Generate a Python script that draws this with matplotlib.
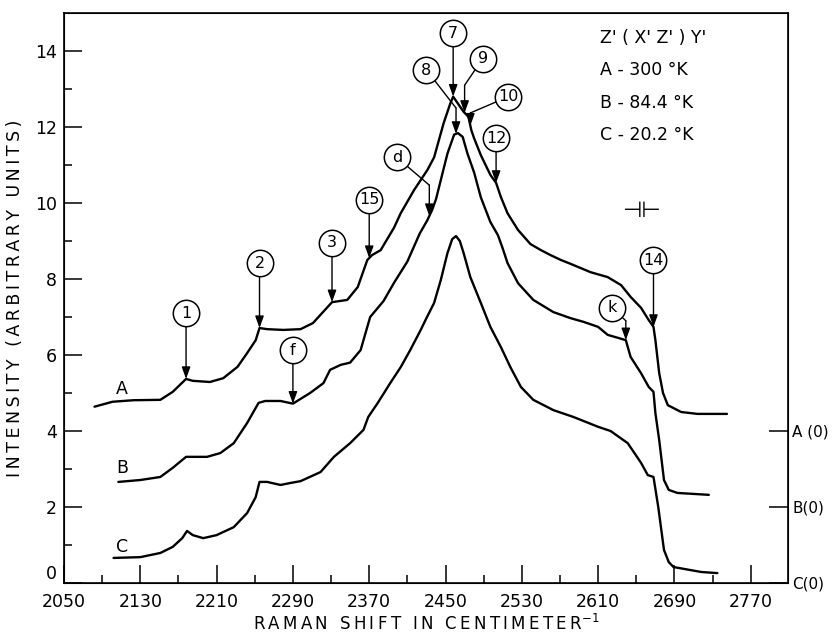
import numpy as np
import matplotlib.pyplot as plt

# Raman spectrum, Z'(X'Z')Y' scattering, three temperatures (curves offset)
shift_a = [2082, 2101, 2123, 2151, 2164, 2178, 2185, 2203, 2217, 2232, 2242, 2251, 2255,
           2263, 2280, 2298, 2311, 2331, 2347, 2358, 2368, 2373, 2382, 2396, 2403, 2417,
           2431, 2438, 2448, 2455, 2458, 2464, 2469, 2474, 2477, 2480, 2487, 2492, 2497,
           2503, 2508, 2515, 2526, 2539, 2550, 2560, 2571, 2581, 2602, 2620, 2634, 2644,
           2655, 2663, 2668, 2670, 2674, 2678, 2683, 2697, 2714, 2745]
int_a = [4.64, 4.77, 4.81, 4.82, 5.03, 5.37, 5.32, 5.29, 5.39, 5.69, 6.05, 6.39, 6.71,
         6.68, 6.66, 6.68, 6.84, 7.39, 7.45, 7.79, 8.5, 8.63, 8.76, 9.35, 9.73, 10.34,
         10.87, 11.2, 12.1, 12.62, 12.8, 12.58, 12.4, 12.27, 11.92, 11.7, 11.26, 11.0, 10.74,
         10.53, 10.16, 9.73, 9.29, 8.92, 8.76, 8.63, 8.5, 8.4, 8.18, 8.05, 7.84, 7.53,
         7.24, 6.92, 6.74, 6.39, 5.52, 5.0, 4.68, 4.5, 4.45, 4.45]

shift_b = [2107, 2130, 2151, 2164, 2178, 2200, 2214, 2228, 2242, 2254, 2261, 2277, 2290,
           2308, 2322, 2329, 2340, 2350, 2361, 2368, 2371, 2385, 2396, 2410, 2423, 2431,
           2436, 2440, 2445, 2452, 2459, 2463, 2468, 2473, 2480, 2487, 2497, 2505, 2510,
           2515, 2526, 2542, 2563, 2581, 2595, 2610, 2620, 2631, 2639, 2644, 2655, 2663,
           2668, 2670, 2674, 2679, 2684, 2693, 2726]
int_b = [2.66, 2.71, 2.79, 3.03, 3.32, 3.32, 3.42, 3.68, 4.21, 4.74, 4.79, 4.79, 4.72,
         5.0, 5.26, 5.61, 5.74, 5.8, 6.13, 6.74, 7.0, 7.42, 7.9, 8.46, 9.2, 9.55,
         9.82, 10.1, 10.6, 11.3, 11.8, 11.84, 11.74, 11.3, 10.8, 10.15, 9.5, 9.15, 8.8,
         8.42, 7.89, 7.45, 7.13, 6.97, 6.87, 6.74, 6.53, 6.45, 6.39, 5.95, 5.52, 5.16,
         5.03, 4.47, 3.76, 2.71, 2.45, 2.37, 2.32]

shift_c = [2102, 2130, 2151, 2164, 2174, 2179, 2185, 2196, 2210, 2228, 2242, 2251, 2255,
           2263, 2277, 2287, 2298, 2319, 2333, 2350, 2364, 2369, 2379, 2392, 2403, 2413,
           2424, 2429, 2438, 2445, 2452, 2457, 2461, 2465, 2469, 2476, 2487, 2497, 2508,
           2518, 2529, 2542, 2563, 2584, 2610, 2623, 2641, 2655, 2662, 2668, 2673, 2679,
           2684, 2689, 2718, 2735]
int_c = [0.66, 0.68, 0.79, 0.95, 1.18, 1.37, 1.26, 1.18, 1.26, 1.47, 1.84, 2.26, 2.66,
         2.66, 2.58, 2.63, 2.68, 2.92, 3.32, 3.68, 4.03, 4.37, 4.74, 5.26, 5.68, 6.13,
         6.66, 6.92, 7.37, 7.97, 8.68, 9.05, 9.13, 9.0, 8.68, 8.05, 7.37, 6.74, 6.21,
         5.68, 5.16, 4.82, 4.55, 4.37, 4.11, 4.0, 3.68, 3.16, 2.84, 2.79, 2.0, 0.87,
         0.55, 0.42, 0.29, 0.26]

curves = {'A': (shift_a, int_a), 'B': (shift_b, int_b), 'C': (shift_c, int_c)}
zero_labels = ['A (0)', 'B(0)', 'C(0)']
zero_levels = [4, 2, 0]
legend_lines = ["Z' ( X' Z' ) Y'", 'A - 300 °K', 'B - 84.4 °K', 'C - 20.2 °K']

# circled band labels: text, circle centre, arrow target shift, curve, optional bend point
marks = [
    ('1', (2177, 7.1), 2178, 'A', None),
    ('2', (2254, 8.42), 2255, 'A', None),
    ('3', (2331, 8.95), 2331, 'A', None),
    ('15', (2370, 10.08), 2370, 'A', None),
    ('d', (2399, 11.2), 2433, 'B', (2433, 10.47)),
    ('7', (2459, 14.47), 2458, 'A', None),
    ('8', (2430, 13.5), 2461, 'B', (2461, 12.5)),
    ('9', (2489, 13.8), 2470, 'A', (2470, 13.1)),
    ('10', (2516, 12.8), 2476, 'A', (2476, 12.37)),
    ('12', (2503, 11.7), 2503, 'A', None),
    ('14', (2668, 8.5), 2668, 'A', None),
    ('k', (2625, 7.24), 2639, 'B', (2639, 6.9)),
    ('f', (2289, 6.13), 2290, 'B', None),
]
curve_tags = [('A', 2111, 5.1), ('B', 2111, 3.03), ('C', 2111, 0.95)]

plt.rcParams['font.family'] = 'DejaVu Sans'

def spaced(s):
    return '\u2009'.join(s)

fig = plt.figure(figsize=(8.35, 6.35), dpi=100)
ax = fig.add_axes([0.0766, 0.0819, 0.8671, 0.8976])

for key, (xs, ys) in curves.items():
    ax.plot(xs, ys, color='black', lw=1.7, solid_capstyle='round',
            solid_joinstyle='round', zorder=2)

for name, x, y in curve_tags:
    ax.text(x, y, name, fontsize=12.5, ha='center', va='center')

arrow = dict(arrowstyle='-|>,head_length=0.55,head_width=0.2', color='black',
             lw=1.0, mutation_scale=13, shrinkB=0)
for text, (cx, cy), tx, key, knee in marks:
    xs, ys = curves[key]
    ty = np.interp(tx, xs, ys)
    if knee is None:
        ax.annotate('', xy=(tx, ty), xytext=(tx, cy),
                    arrowprops=dict(arrow, shrinkA=9.5), zorder=3)
    else:
        ax.annotate('', xy=knee, xytext=(cx, cy),
                    arrowprops=dict(arrowstyle='-', color='black', lw=1.0,
                                    shrinkA=9.5, shrinkB=0), zorder=3)
        ax.annotate('', xy=(tx, ty), xytext=knee,
                    arrowprops=dict(arrow, shrinkA=0), zorder=3)
    px = tx if knee is None else cx
    ax.plot(px, cy, 'o', ms=19, mfc='white', mec='black', mew=1.1, zorder=4)
    ax.text(px, cy, text, fontsize=11.5, ha='center', va='center', zorder=5)

for i, line in enumerate(legend_lines):
    ax.text(0.74, 0.957 - i * 0.057, line, transform=ax.transAxes,
            fontsize=12.5, va='center', ha='left')

# spectral slit width symbol
ax.text(0.797, 0.652, '⊣⊢', transform=ax.transAxes, fontsize=16,
        ha='center', va='center')

ax.set_xlim(2050, 2809)
ax.set_ylim(0, 15)
ax.set_xticks(np.arange(2050, 2771, 80))
ax.set_xticks(np.arange(2090, 2810, 80), minor=True)
ax.set_yticks(np.arange(0, 15, 2))
ax.set_yticks(np.arange(1, 15, 2), minor=True)
ax.tick_params(which='major', direction='in', length=13, width=1.1,
               labelsize=12.5, pad=5)
ax.tick_params(which='minor', direction='in', length=6, width=1.1)
ax.tick_params(axis='x', which='major', pad=7)
# lift the "0" a little so it clears "2050"
ax.get_yticklabels()[0].set_va('bottom')
for s in ax.spines.values():
    s.set_linewidth(1.2)

ax.set_xlabel(spaced('RAMAN SHIFT IN CENTIMETER') + '$^{-1}$', fontsize=12,
              labelpad=2)
ax.set_ylabel(spaced('INTENSITY (ARBITRARY UNITS)'), fontsize=12.5, labelpad=8)

ax2 = ax.twinx()
ax2.set_ylim(ax.get_ylim())
ax2.set_yticks(zero_levels)
ax2.set_yticklabels(zero_labels)
ax2.tick_params(direction='in', length=14, width=1.1, labelsize=11, pad=3)

fig.savefig('out.png', dpi=100)
